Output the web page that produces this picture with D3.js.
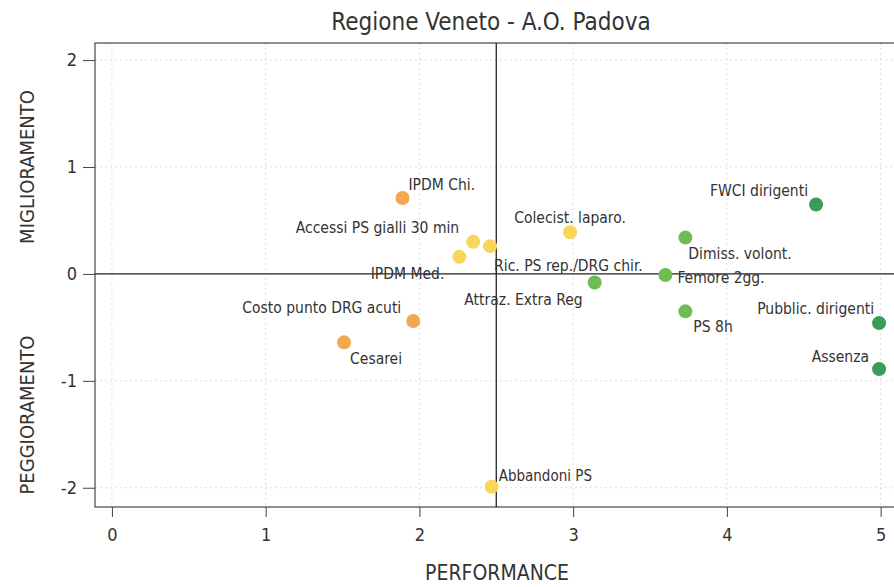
<!DOCTYPE html>
<html>
<head>
<meta charset="utf-8">
<script src="https://cdn.jsdelivr.net/npm/d3@7"></script>
<style>
  body { margin: 0; background: #fff; }
  svg text { font-family: "DejaVu Sans Condensed", "Roboto", sans-serif; fill: #333; }
</style>
</head>
<body>
<div id="chart"></div>
<script>
// indicatori della A.O. Padova: performance (x) e miglioramento (y)
var indicatori = ["IPDM Chi.", "Accessi PS gialli 30 min", "IPDM Med.", "Ric. PS rep./DRG chir.",
  "Colecist. laparo.", "Attraz. Extra Reg", "Costo punto DRG acuti", "Cesarei", "Abbandoni PS",
  "FWCI dirigenti", "Dimiss. volont.", "Femore 2gg.", "PS 8h", "Pubblic. dirigenti", "Assenza"];
var performance = [1.89, 2.35, 2.26, 2.46, 2.98, 3.14, 1.96, 1.51, 2.47, 4.58, 3.73, 3.60, 3.73, 4.99, 4.99];
var miglioramento = [0.71, 0.30, 0.16, 0.26, 0.39, -0.08, -0.44, -0.64, -1.99, 0.65, 0.34, -0.01, -0.35, -0.46, -0.89];
var fasce = ["arancio", "giallo", "giallo", "giallo", "giallo", "verde", "arancio", "arancio", "giallo",
  "verdeScuro", "verde", "verde", "verde", "verdeScuro", "verdeScuro"];
var xTicks = [0, 1, 2, 3, 4, 5];
var yTicks = [-2, -1, 0, 1, 2];

var colori = { arancio: "#f5a650", giallo: "#f8d65a", verde: "#6fbd52", verdeScuro: "#3a9c58" };

// posizione delle etichette rispetto al punto [dx, dy, anchor]
var posEtichette = {
  "IPDM Chi.": [6, -8, "start"],
  "Accessi PS gialli 30 min": [-14, -9, "end"],
  "IPDM Med.": [-15, 22, "end"],
  "Ric. PS rep./DRG chir.": [4, 25, "start"],
  "Colecist. laparo.": [0, -9, "middle"],
  "Attraz. Extra Reg": [-12, 23, "end"],
  "Costo punto DRG acuti": [-12, -8, "end"],
  "Cesarei": [6, 22, "start"],
  "Abbandoni PS": [7, -6, "start"],
  "FWCI dirigenti": [-8, -8, "end"],
  "Dimiss. volont.": [3, 21, "start"],
  "Femore 2gg.": [12, 8, "start"],
  "PS 8h": [8, 21, "start"],
  "Pubblic. dirigenti": [-5, -9, "end"],
  "Assenza": [-10, -7, "end"]
};

var W = 894, H = 587;
var margin = {top: 43, right: -2, bottom: 80, left: 95};
var width = W - margin.left - margin.right,
    height = H - margin.top - margin.bottom;

var svg = d3.select("#chart").append("svg")
  .attr("width", W).attr("height", H);

var g = svg.append("g")
  .attr("transform", "translate(" + margin.left + "," + margin.top + ")");

var x = d3.scaleLinear().domain([-0.11, 5.10]).range([0, width]);
var y = d3.scaleLinear().domain([-2.18, 2.16]).range([height, 0]);

// griglia tratteggiata
g.selectAll(".gx").data(xTicks).enter().append("line")
  .attr("x1", function(d) { return x(d); }).attr("x2", function(d) { return x(d); })
  .attr("y1", 0).attr("y2", height)
  .attr("stroke", "#ddd").attr("stroke-dasharray", "2,3");
g.selectAll(".gy").data(yTicks.filter(function(d) { return d != 0; })).enter().append("line")
  .attr("y1", function(d) { return y(d); }).attr("y2", function(d) { return y(d); })
  .attr("x1", 0).attr("x2", width)
  .attr("stroke", "#ddd").attr("stroke-dasharray", "2,3");

// cornice
g.append("rect").attr("width", width).attr("height", height)
  .attr("fill", "none").attr("stroke", "#444").attr("stroke-width", 1.2);

// assi
var xAxis = g.append("g")
  .attr("transform", "translate(0," + height + ")")
  .call(d3.axisBottom(x).tickValues(xTicks).tickSize(10).tickPadding(11).tickFormat(d3.format("d")));
var yAxis = g.append("g")
  .call(d3.axisLeft(y).tickValues(yTicks).tickSize(12).tickPadding(6).tickFormat(function(d) { return d; }));
[xAxis, yAxis].forEach(function(a) {
  a.select(".domain").remove();
  a.selectAll("line").attr("stroke", "#444");
  a.selectAll("text").style("font-size", "18px").attr("fill", "#444")
    .style("font-family", "'DejaVu Sans Condensed', sans-serif");
});

// linee dei quadranti
g.append("line").attr("x1", x(2.5)).attr("x2", x(2.5)).attr("y1", 0).attr("y2", height)
  .attr("stroke", "#222").attr("stroke-width", 1.3);
g.append("line").attr("x1", 0).attr("x2", width).attr("y1", y(0)).attr("y2", y(0))
  .attr("stroke", "#222").attr("stroke-width", 1.3);

var dati = indicatori.map(function(n, i) {
  return {nome: n, px: performance[i], py: miglioramento[i], fascia: fasce[i]};
});

g.selectAll(".punto").data(dati).enter().append("circle")
  .attr("cx", function(d) { return x(d.px); })
  .attr("cy", function(d) { return y(d.py); })
  .attr("r", 7)
  .attr("fill", function(d) { return colori[d.fascia]; });

g.selectAll(".etichetta").data(dati).enter().append("text")
  .attr("x", function(d) { return x(d.px) + posEtichette[d.nome][0]; })
  .attr("y", function(d) { return y(d.py) + posEtichette[d.nome][1]; })
  .attr("text-anchor", function(d) { return posEtichette[d.nome][2]; })
  .style("font-size", function(d) { return d.nome == "Abbandoni PS" ? "15px" : "15.5px"; })
  .text(function(d) { return d.nome; });

// titoli
svg.append("text").attr("x", 491).attr("y", 30).attr("text-anchor", "middle")
  .style("font-size", "24px").text("Regione Veneto - A.O. Padova");
svg.append("text").attr("x", 497).attr("y", 580).attr("text-anchor", "middle")
  .style("font-size", "21px").text("PERFORMANCE");
svg.append("text").attr("transform", "translate(34,167) rotate(-90)").attr("text-anchor", "middle")
  .style("font-size", "20px").text("MIGLIORAMENTO");
svg.append("text").attr("transform", "translate(34,415) rotate(-90)").attr("text-anchor", "middle")
  .style("font-size", "20px").text("PEGGIORAMENTO");
</script>
</body>
</html>
